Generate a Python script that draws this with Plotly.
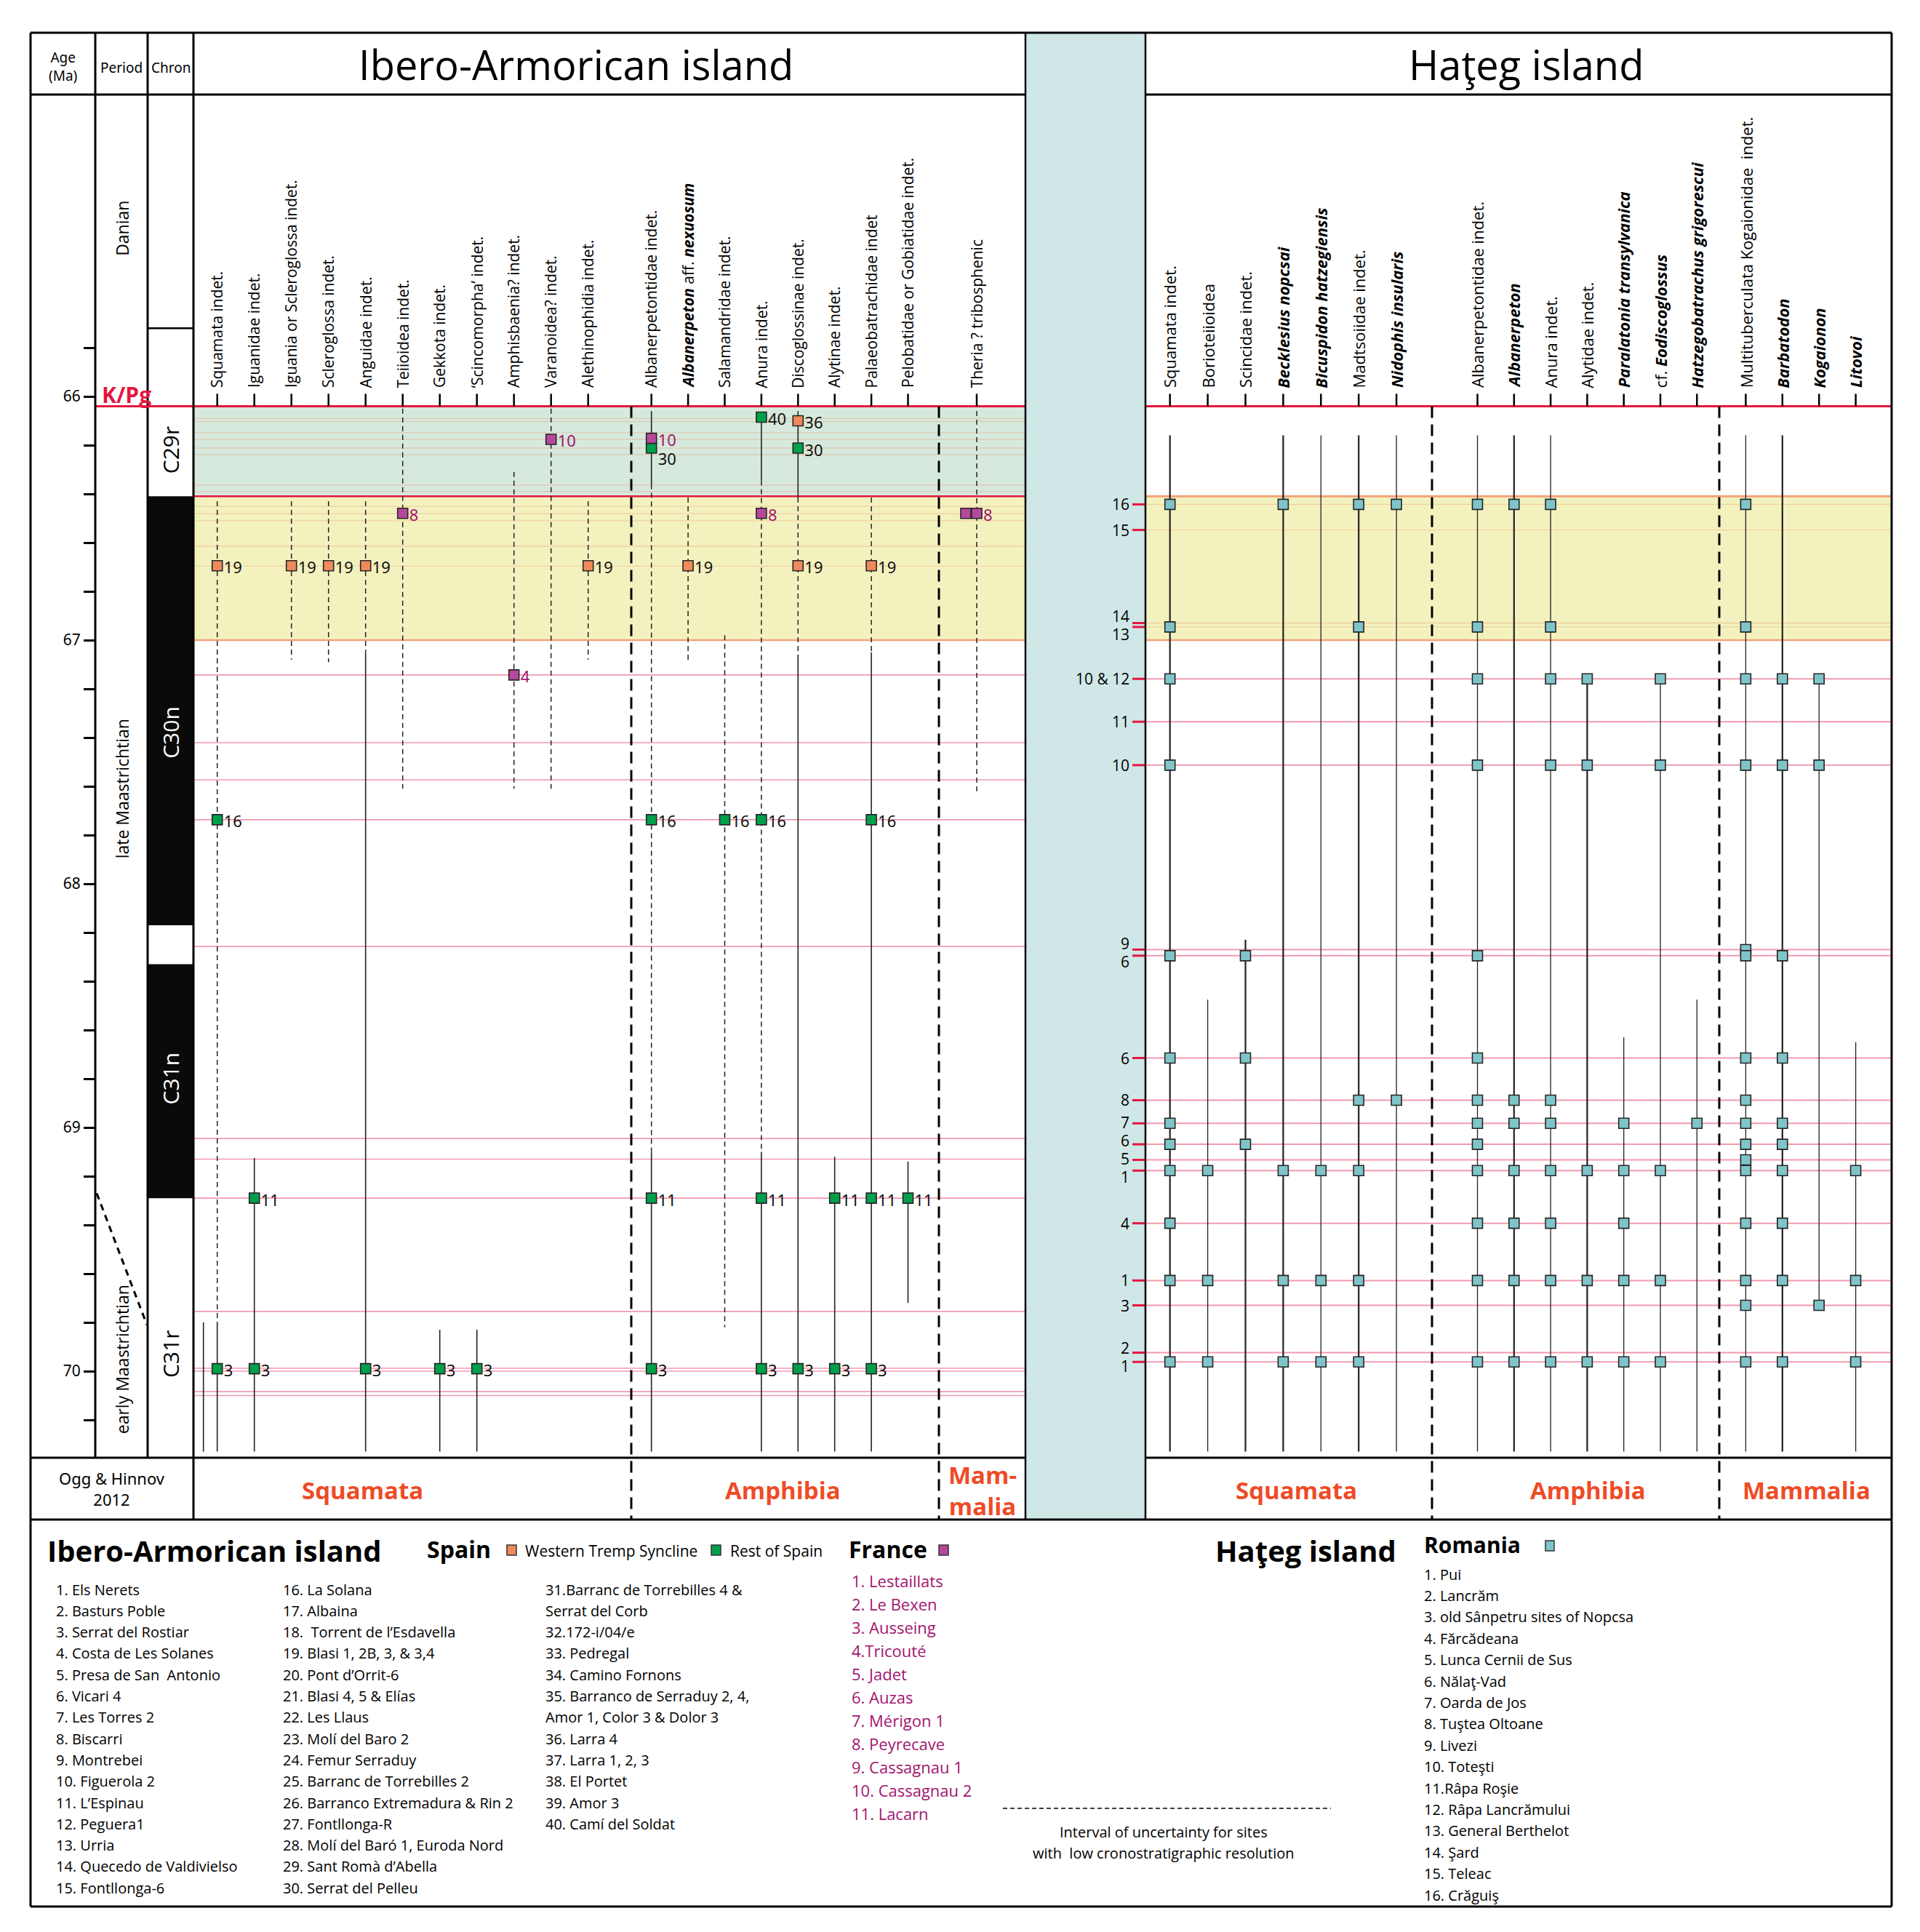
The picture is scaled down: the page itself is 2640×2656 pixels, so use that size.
import plotly.graph_objects as go

# ============================ DATA ============================
AGE_MAJOR = [66, 67, 68, 69, 70]
AGE_TICKS = [65.8, 66.0, 66.2, 66.4, 66.6, 66.8, 67.0, 67.2, 67.4, 67.6, 67.8,
             68.0, 68.2, 68.4, 68.6, 68.8, 69.0, 69.2, 69.4, 69.6, 69.8, 70.0, 70.2]
KPG_AGE = 66.04

CHRON_LABELS = ["", "C29r", "C30n", "", "C31n", "C31r"]
CHRON_TOPS = [64.76, 65.72, 66.41, 68.17, 68.33, 69.29]
CHRON_BASES = [65.72, 66.41, 68.17, 68.33, 69.29, 70.36]
CHRON_LABEL_AGES = [65.2, 66.22, 67.38, 68.25, 68.80, 69.93]
CHRON_NORMAL = [False, False, True, False, True, False]

PERIOD_LABELS = ["Danian", "late Maastrichtian", "early Maastrichtian"]
PERIOD_LABEL_AGES = [65.31, 67.61, 69.95]
MAASTRICHTIAN_BOUNDARY = [69.27, 69.81]

GREEN_BAND = [66.04, 66.41]
YELLOW_BAND = [66.41, 67.00]

# ---- Ibero-Armorican island
IBERO_TAXA = ["Squamata indet.", "Iguanidae indet.", "Iguania or Scleroglossa indet.",
              "Scleroglossa indet.", "Anguidae indet.", "Teiioidea indet.", "Gekkota indet.",
              "\u2018Scincomorpha\u2019 indet.", "Amphisbaenia? indet.", "Varanoidea? indet.",
              "Alethinophidia indet.",
              "Albanerpetontidae indet.", "<b><i>Albanerpeton</i></b> aff. <b><i>nexuosum</i></b>",
              "Salamandridae indet.", "Anura indet.", "Discoglossinae indet.", "Alytinae indet.",
              "Palaeobatrachidae indet", "Pelobatidae or Gobiatidae indet.",
              "Theria ? tribosphenic"]
IBERO_GROUP_SIZES = [11, 8, 1]
IBERO_GROUP_NAMES = ["Squamata", "Amphibia", "Mam-<br>malia"]

IBERO_SITE_LINE_AGES = [66.090, 66.103, 66.149, 66.176, 66.212, 66.239, 66.364, 66.391,
                        66.451, 66.481, 66.510, 66.615, 66.696,
                        67.143, 67.421, 67.573, 67.737, 68.257, 69.045, 69.130, 69.290,
                        69.755, 69.988, 70.000, 70.084, 70.100]

# (site number, region, age Ma); WT = Western Tremp Syncline, RS = rest of Spain, FR = France
IBERO_OCC = [
    [("19", "WT", 66.695), ("16", "RS", 67.737), ("3", "RS", 69.99)],
    [("11", "RS", 69.29), ("3", "RS", 69.99)],
    [("19", "WT", 66.695)],
    [("19", "WT", 66.695)],
    [("19", "WT", 66.695), ("3", "RS", 69.99)],
    [("8", "FR", 66.48)],
    [("3", "RS", 69.99)],
    [("3", "RS", 69.99)],
    [("4", "FR", 67.143)],
    [("10", "FR", 66.176)],
    [("19", "WT", 66.695)],
    [("10", "FR", 66.172), ("30", "RS", 66.212), ("16", "RS", 67.737), ("11", "RS", 69.29), ("3", "RS", 69.99)],
    [("19", "WT", 66.695)],
    [("16", "RS", 67.737)],
    [("40", "RS", 66.085), ("8", "FR", 66.48), ("16", "RS", 67.737), ("11", "RS", 69.29), ("3", "RS", 69.99)],
    [("36", "WT", 66.10), ("30", "RS", 66.212), ("19", "WT", 66.695), ("3", "RS", 69.99)],
    [("11", "RS", 69.29), ("3", "RS", 69.99)],
    [("19", "WT", 66.695), ("16", "RS", 67.737), ("11", "RS", 69.29), ("3", "RS", 69.99)],
    [("11", "RS", 69.29)],
    [("8", "FR", 66.48), ("8", "FR", 66.48)],
]

# stratigraphic range segments (top age, base age, style)
IBERO_RANGES = [
    [(66.43, 69.80, "dash"), (69.80, 70.33, "solid")],
    [(69.125, 70.33, "solid")],
    [(66.43, 67.08, "dash")],
    [(66.43, 67.09, "dash")],
    [(66.43, 67.05, "dash"), (67.05, 70.33, "solid")],
    [(66.05, 67.61, "dash")],
    [(69.83, 70.33, "solid")],
    [(69.83, 70.33, "solid")],
    [(66.31, 67.61, "dash")],
    [(66.05, 67.61, "dash")],
    [(66.43, 67.08, "dash")],
    [(66.06, 66.36, "solid"), (66.36, 69.10, "dash"), (69.10, 70.33, "solid")],
    [(66.415, 67.09, "dash")],
    [(66.98, 69.82, "dash")],
    [(66.085, 66.345, "solid"), (66.345, 69.10, "dash"), (69.10, 70.33, "solid")],
    [(66.06, 66.10, "dash"), (66.10, 66.415, "solid"), (66.415, 67.06, "dash"), (67.06, 70.33, "solid")],
    [(69.12, 70.33, "solid")],
    [(66.415, 67.05, "dash"), (67.05, 70.33, "solid")],
    [(69.14, 69.72, "solid")],
    [(66.06, 67.62, "dash")],
]
IBERO_STRAY_RANGE = (0, 69.80, 70.33)   # unlabelled line just left of Squamata indet.

# ---- Hateg island
HATEG_TAXA = ["Squamata indet.", "Borioteiioidea", "Scincidae indet.",
              "<b><i>Becklesius nopcsai</i></b>", "<b><i>Bicuspidon hatzegiensis</i></b>",
              "Madtsoiidae indet.", "<b><i>Nidophis insularis</i></b>",
              "Albanerpetontidae indet.", "<b><i>Albanerpeton</i></b>", "Anura indet.",
              "Alytidae indet.", "<b><i>Paralatonia transylvanica</i></b>",
              "cf. <b><i>Eodiscoglossus</i></b>", "<b><i>Hatzegobatrachus grigorescui</i></b>",
              "Multituberculata Kogaionidae  indet.", "<b><i>Barbatodon</i></b>",
              "<b><i>Kogaionon</i></b>", "<b><i>Litovoi</i></b>"]
HATEG_GROUP_SIZES = [7, 7, 4]
HATEG_GROUP_NAMES = ["Squamata", "Amphibia", "Mammalia"]

HATEG_SITE_LABELS = ["16", "15", "14", "13", "10 & 12", "11", "10", "9", "6", "6",
                     "8", "7", "6", "5", "1", "4", "1", "3", "2", "1"]
HATEG_SITE_AGES = [66.443, 66.548, 66.930, 66.946, 67.159, 67.335, 67.513, 68.270, 68.295, 68.715,
                   68.888, 68.983, 69.069, 69.133, 69.177, 69.393, 69.628, 69.730, 69.924, 69.962]

# occurrences = indices into the site lines above
HATEG_OCC = [
    [0, 3, 4, 6, 8, 9, 11, 12, 14, 15, 16, 19],
    [14, 16, 19],
    [8, 9, 12],
    [0, 14, 16, 19],
    [14, 16, 19],
    [0, 3, 10, 14, 16, 19],
    [0, 10],
    [0, 3, 4, 6, 8, 9, 10, 11, 12, 14, 15, 16, 19],
    [0, 10, 11, 14, 15, 16, 19],
    [0, 3, 4, 6, 10, 11, 14, 15, 16, 19],
    [4, 6, 14, 16, 19],
    [11, 14, 15, 16, 19],
    [4, 6, 14, 16, 19],
    [11],
    [0, 3, 4, 6, 7, 8, 9, 10, 11, 12, 13, 14, 15, 16, 17, 19],
    [4, 6, 8, 9, 11, 12, 14, 15, 16, 19],
    [4, 6, 17],
    [14, 16, 19],
]
HATEG_RANGE_TOP = [66.16, 68.475, 68.23, 66.16, 66.16, 66.16, 66.16, 66.16, 66.16, 66.16,
                   67.159, 68.63, 67.159, 68.475, 66.16, 66.16, 67.159, 68.65]
HATEG_RANGE_BASE = [70.33, 70.33, 70.33, 70.33, 70.33, 70.33, 70.33, 70.33, 70.33, 70.33,
                    70.33, 70.33, 70.33, 70.33, 70.33, 70.33, 69.73, 70.33]
HATEG_RANGE_BOLD = [True, False, True, True, False, True, False, False, True, False,
                    True, False, False, False, False, True, False, False]

# ---- legend lists
SPAIN_SITES = ["1. Els Nerets", "2. Basturs Poble", "3. Serrat del Rostiar", "4. Costa de Les Solanes",
               "5. Presa de San  Antonio", "6. Vicari 4", "7. Les Torres 2", "8. Biscarri", "9. Montrebei",
               "10. Figuerola 2", "11. L\u2019Espinau", "12. Peguera1", "13. Urria",
               "14. Quecedo de Valdivielso", "15. Fontllonga-6",
               "16. La Solana", "17. Albaina", "18.  Torrent de l\u2019Esdavella", "19. Blasi 1, 2B, 3, & 3,4",
               "20. Pont d\u2019Orrit-6", "21. Blasi 4, 5 & El\u00edas", "22. Les Llaus", "23. Mol\u00ed del Baro 2",
               "24. Femur Serraduy", "25. Barranc de Torrebilles 2", "26. Barranco Extremadura & Rin 2",
               "27. Fontllonga-R", "28. Mol\u00ed del Bar\u00f3 1, Euroda Nord", "29. Sant Rom\u00e0 d\u2019Abella",
               "30. Serrat del Pelleu",
               "31.Barranc de Torrebilles 4 &\nSerrat del Corb", "32.172-i/04/e", "33. Pedregal",
               "34. Camino Fornons", "35. Barranco de Serraduy 2, 4,\nAmor 1, Color 3 & Dolor 3",
               "36. Larra 4", "37. Larra 1, 2, 3", "38. El Portet", "39. Amor 3", "40. Cam\u00ed del Soldat"]
FRANCE_SITES = ["1. Lestaillats", "2. Le Bexen", "3. Ausseing", "4.Tricout\u00e9", "5. Jadet", "6. Auzas",
                "7. M\u00e9rigon 1", "8. Peyrecave", "9. Cassagnau 1", "10. Cassagnau 2", "11. Lacarn"]
ROMANIA_SITES = ["1. Pui", "2. Lancr\u0103m", "3. old S\u00e2npetru sites of Nopcsa", "4. F\u0103rc\u0103deana",
                 "5. Lunca Cernii de Sus", "6. N\u0103la\u0163-Vad", "7. Oarda de Jos", "8. Tu\u015ftea Oltoane",
                 "9. Livezi", "10. Tote\u015fti", "11.R\u00e2pa Ro\u015fie", "12. R\u00e2pa Lancr\u0103mului",
                 "13. General Berthelot", "14. \u015eard", "15. Teleac", "16. Cr\u0103gui\u015f"]

# ============================ STYLE / LAYOUT ============================
W, H = 2640, 2656
FONT = "Open Sans"
FONT2 = "Noto Sans"
REGION_FILL = {"WT": "#ef8a5c", "RS": "#00a04a", "FR": "#b5489c", "RO": "#7fc4c9"}
REGION_TEXT = {"WT": "#111111", "RS": "#111111", "FR": "#a3146f"}
GROUP_RED = "#ef4b26"
KPG_RED = "#e3173e"
PINK = "#f29ab0"
BAND_LINE = "rgba(230,150,110,0.35)"
GREEN_FILL = "#d6e9dc"
YELLOW_FILL = "#f3f2bf"
BLUE_FILL = "#cfe7e7"
YELLOW_EDGE = "#f2a27a"

X_FL, X_FR = 42, 2601
Y_FT, Y_FB = 45, 2621
X_AGE_R, X_PER_R, X_CHR_R = 131, 203, 266
X_BLUE_L, X_BLUE_R = 1410, 1575
Y_HEAD_B, Y_DATA_B, Y_FOOT_B = 130, 2004, 2089
Y66, PX_PER_MA = 545.0, 335.0

IBERO_GROUP_X = [(298.7, 51.0), (895.7, 50.4), (1343.0, 50.0)]
HATEG_GROUP_X = [(1608.7, 51.9), (2031.5, 50.3), (2400.4, 50.4)]
IBERO_SEP_X = [868, 1291]
HATEG_SEP_X = [1969, 2364]
IBERO_FOOT_X = [498, 1076, 1351]
HATEG_FOOT_X = [1782, 2183, 2484]
HATEG_LABEL_GAP = 25
IBERO_LABEL_GAP = 26


def age_px(a):
    return Y66 + (a - 66.0) * PX_PER_MA


def px_age(y):
    return 66.0 + (y - Y66) / PX_PER_MA


AGE_TOP = px_age(Y_HEAD_B)
AGE_BOT = px_age(Y_DATA_B)


def PX(x):
    return x / W


def PY(y):
    return 1 - y / H


def col_positions(sizes, groups):
    xs = []
    for n, (x0, step) in zip(sizes, groups):
        xs += [x0 + i * step for i in range(n)]
    return xs


IBERO_X = col_positions(IBERO_GROUP_SIZES, IBERO_GROUP_X)
HATEG_X = col_positions(HATEG_GROUP_SIZES, HATEG_GROUP_X)

shapes = []
annots = []


def pline(x0, y0, x1, y1, color="black", width=3, dash=None, layer="above"):
    shapes.append(dict(type="line", xref="paper", yref="paper", x0=PX(x0), y0=PY(y0), x1=PX(x1), y1=PY(y1),
                       line=dict(color=color, width=width, dash=dash), layer=layer))


def prect(x0, y0, x1, y1, fill, color=None, width=0, layer="below"):
    shapes.append(dict(type="rect", xref="paper", yref="paper", x0=PX(x0), y0=PY(y0), x1=PX(x1), y1=PY(y1),
                       fillcolor=fill, line=dict(color=color or fill, width=width), layer=layer))


def arect(x0, a0, x1, a1, fill):
    shapes.append(dict(type="rect", xref="x", yref="y", x0=x0, x1=x1, y0=a0, y1=a1,
                       fillcolor=fill, line=dict(width=0), layer="below"))


def aline(x0, x1, a, color, width=1.5, layer="below"):
    shapes.append(dict(type="line", xref="x", yref="y", x0=x0, x1=x1, y0=a, y1=a,
                       line=dict(color=color, width=width), layer=layer))


def ptext(x, y, s, size=22, color="black", xanchor="center", yanchor="middle", angle=0, family=FONT,
          xref="paper", yref="paper", align="center"):
    annots.append(dict(x=PX(x) if xref == "paper" else x, y=PY(y) if yref == "paper" else y,
                       xref=xref, yref=yref, text=s, showarrow=False, textangle=angle,
                       xanchor=xanchor, yanchor=yanchor, align=align,
                       font=dict(size=size, color=color, family=family)))


# ---------------- backgrounds
prect(X_BLUE_L, Y_FT, X_BLUE_R, Y_FOOT_B, BLUE_FILL)
arect(X_CHR_R, GREEN_BAND[0], X_BLUE_L, GREEN_BAND[1], GREEN_FILL)
arect(X_CHR_R, YELLOW_BAND[0], X_BLUE_L, YELLOW_BAND[1], YELLOW_FILL)
arect(X_BLUE_R, YELLOW_BAND[0], X_FR, YELLOW_BAND[1], YELLOW_FILL)

# chron column
for lab, top, base, la, normal in zip(CHRON_LABELS, CHRON_TOPS, CHRON_BASES, CHRON_LABEL_AGES, CHRON_NORMAL):
    t = max(top, AGE_TOP)
    b = min(base, AGE_BOT)
    if normal:
        arect(X_PER_R, t, X_CHR_R, b, "#0a0a0a")
    if lab:
        ptext((X_PER_R + X_CHR_R) / 2, age_px(la), lab, size=30,
              color="white" if normal else "black", angle=-90, family=FONT)
pline(X_PER_R, age_px(CHRON_BASES[0]), X_CHR_R, age_px(CHRON_BASES[0]), width=2.5)

# Ibero site lines
for a in IBERO_SITE_LINE_AGES:
    inband = a < YELLOW_BAND[1]
    aline(X_CHR_R, X_BLUE_L, a, BAND_LINE if inband else PINK, 1.4 if inband else 1.6)
# Hateg site lines
for a in HATEG_SITE_AGES:
    inband = YELLOW_BAND[0] < a < YELLOW_BAND[1]
    aline(X_BLUE_R, X_FR, a, BAND_LINE if inband else PINK, 1.4 if inband else 2)

# band edges
aline(X_CHR_R, X_BLUE_L, YELLOW_BAND[1], YELLOW_EDGE, 2.5)
aline(X_BLUE_R, X_FR, YELLOW_BAND[1], YELLOW_EDGE, 2.5)
aline(X_BLUE_R, X_FR, YELLOW_BAND[0], YELLOW_EDGE, 3)
aline(X_CHR_R, X_BLUE_L, YELLOW_BAND[0], KPG_RED, 2.5)
# K/Pg
aline(X_AGE_R, X_BLUE_L, KPG_AGE, KPG_RED, 3, layer="above")
aline(X_BLUE_R, X_FR, KPG_AGE, KPG_RED, 3, layer="above")
ptext(X_AGE_R + 7, age_px(66.0) - 2, "<b>K/Pg</b>", size=30, color=KPG_RED, xanchor="left")

# Hateg site tick marks and labels (spread overlapping labels)
lab_px = [age_px(a) for a in HATEG_SITE_AGES]
for _ in range(80):
    for i in range(1, len(lab_px)):
        d = lab_px[i] - lab_px[i - 1]
        if d < HATEG_LABEL_GAP:
            s = (HATEG_LABEL_GAP - d) / 2
            lab_px[i - 1] -= s
            lab_px[i] += s
for lab, a, yl in zip(HATEG_SITE_LABELS, HATEG_SITE_AGES, lab_px):
    aline(X_BLUE_R - 18, X_BLUE_R, a, KPG_RED, 3, layer="above")
    ptext(X_BLUE_R - 20, yl, lab, size=21, xanchor="right", family=FONT)

# ---------------- frame and grid lines
pline(X_FL, Y_FT, X_FR, Y_FT)
pline(X_FL, Y_FB, X_FR, Y_FB)
pline(X_FL, Y_FT, X_FL, Y_FB)
pline(X_FR, Y_FT, X_FR, Y_FB)
for xa, xb in [(X_FL, X_BLUE_L), (X_BLUE_R, X_FR)]:
    pline(xa, Y_HEAD_B, xb, Y_HEAD_B)
    pline(xa, Y_DATA_B, xb, Y_DATA_B)
pline(X_FL, Y_FOOT_B, X_FR, Y_FOOT_B)
pline(X_AGE_R, Y_FT, X_AGE_R, Y_DATA_B)
pline(X_PER_R, Y_FT, X_PER_R, Y_DATA_B)
pline(X_CHR_R, Y_FT, X_CHR_R, Y_FOOT_B)
pline(X_BLUE_L, Y_FT, X_BLUE_L, Y_FOOT_B, width=2.5)
pline(X_BLUE_R, Y_FT, X_BLUE_R, Y_FOOT_B, width=2.5)
for xs in IBERO_SEP_X + HATEG_SEP_X:
    pline(xs, age_px(KPG_AGE), xs, Y_FOOT_B, width=3, dash="16px,9px")

# period boundary
pline(X_AGE_R + 2, age_px(MAASTRICHTIAN_BOUNDARY[0]), X_PER_R - 1, age_px(MAASTRICHTIAN_BOUNDARY[1]),
      width=3, dash="9px,7px")

# ---------------- header texts
ptext((X_FL + X_AGE_R) / 2, 92, "Age<br>(Ma)", size=19, family=FONT2)
ptext((X_AGE_R + X_PER_R) / 2, 93, "Period", size=19, family=FONT2)
ptext((X_PER_R + X_CHR_R) / 2, 93, "Chron", size=19, family=FONT2)
ptext(792, 88, "Ibero-Armorican island", size=56)
ptext(2098, 88, "Ha\u0163eg island", size=56)
for lab, a in zip(PERIOD_LABELS, PERIOD_LABEL_AGES):
    ptext((X_AGE_R + X_PER_R) / 2 + 1, age_px(a), lab, size=23, angle=-90)
ptext((X_FL + X_CHR_R) / 2, (Y_DATA_B + Y_FOOT_B) / 2, "Ogg &amp; Hinnov<br>2012", size=22, family=FONT2)

# taxon labels + ticks
TICK_TOP = age_px(KPG_AGE) - 17
for names, xs, size in [(IBERO_TAXA, IBERO_X, 21), (HATEG_TAXA, HATEG_X, 22)]:
    for name, x in zip(names, xs):
        shapes.append(dict(type="line", xref="x", yref="paper", x0=x, x1=x, y0=PY(TICK_TOP),
                           y1=PY(age_px(KPG_AGE)), line=dict(color="black", width=2.5)))
        ptext(x, TICK_TOP - 6, name, size=size, angle=-90, xref="x", yanchor="bottom", xanchor="center")

# group labels in footer
for names, xs in [(IBERO_GROUP_NAMES, IBERO_FOOT_X), (HATEG_GROUP_NAMES, HATEG_FOOT_X)]:
    for nm, x in zip(names, xs):
        ptext(x, (Y_DATA_B + Y_FOOT_B) / 2 + 2, "<b>%s</b>" % nm, size=33, color=GROUP_RED)

# ---------------- traces
traces = []


def seg_trace(xs, ys, width, dash=None, color="#222222"):
    return go.Scatter(x=xs, y=ys, mode="lines", hoverinfo="skip",
                      line=dict(color=color, width=width, dash=dash))


sx, sy, dx, dy = [], [], [], []
for x, segs in zip(IBERO_X, IBERO_RANGES):
    for top, base, style in segs:
        if style == "dash":
            dx += [x, x, None]
            dy += [top, base, None]
        else:
            sx += [x, x, None]
            sy += [top, base, None]
ci, t0, b0 = IBERO_STRAY_RANGE
sx += [IBERO_X[ci] - 19, IBERO_X[ci] - 19, None]
sy += [t0, b0, None]
traces.append(seg_trace(sx, sy, 1.6))
traces.append(seg_trace(dx, dy, 1.5, dash="7px,5px"))

hx_b, hy_b, hx_t, hy_t = [], [], [], []
for x, t, b, bold in zip(HATEG_X, HATEG_RANGE_TOP, HATEG_RANGE_BASE, HATEG_RANGE_BOLD):
    if bold:
        hx_b += [x, x, None]
        hy_b += [t, b, None]
    else:
        hx_t += [x, x, None]
        hy_t += [t, b, None]
traces.append(seg_trace(hx_b, hy_b, 2.2))
traces.append(seg_trace(hx_t, hy_t, 1.3))

# Ibero markers + labels
mk = {k: ([], []) for k in REGION_FILL}
lab_by_color = {}
for x, occ in zip(IBERO_X, IBERO_OCC):
    seen = {}
    col_labels = []
    for site, reg, a in occ:
        key = (site, a)
        n = seen.get(key, 0)
        seen[key] = n + 1
        mk[reg][0].append(x - 15 * n)
        mk[reg][1].append(a)
        if n == 0:
            col_labels.append([age_px(a) + 5, site, reg])
    col_labels.sort()
    for i in range(1, len(col_labels)):
        if col_labels[i][0] - col_labels[i - 1][0] < IBERO_LABEL_GAP:
            col_labels[i][0] = col_labels[i - 1][0] + IBERO_LABEL_GAP
    for yl, site, reg in col_labels:
        c = REGION_TEXT[reg]
        lab_by_color.setdefault(c, ([], [], []))
        lab_by_color[c][0].append(x + 9)
        lab_by_color[c][1].append(px_age(yl))
        lab_by_color[c][2].append(site)

for x, occ in zip(HATEG_X, HATEG_OCC):
    for i in occ:
        mk["RO"][0].append(x)
        mk["RO"][1].append(HATEG_SITE_AGES[i])

for reg, (xs, ys) in mk.items():
    traces.append(go.Scatter(x=xs, y=ys, mode="markers", hoverinfo="skip",
                             marker=dict(symbol="square", size=14, color=REGION_FILL[reg],
                                         line=dict(color="#262626", width=1.6))))
for c, (xs, ys, tx) in lab_by_color.items():
    traces.append(go.Scatter(x=xs, y=ys, mode="text", text=tx, textposition="middle right",
                             hoverinfo="skip", textfont=dict(size=22, color=c, family=FONT2)))

# ---------------- legend block
LEG_Y = 2131
ptext(63, LEG_Y, "<b>Ibero-Armorican island</b>", size=40, xanchor="left")
ptext(585, LEG_Y - 2, "<b>Spain</b>", size=32, xanchor="left")
prect(697, LEG_Y - 7, 710, LEG_Y + 7, REGION_FILL["WT"], "#333333", 1.5, layer="above")
ptext(720, LEG_Y + 1, "Western Tremp Syncline", size=21, xanchor="left")
prect(978, LEG_Y - 7, 991, LEG_Y + 7, REGION_FILL["RS"], "#333333", 1.5, layer="above")
ptext(1002, LEG_Y + 1, "Rest of Spain", size=21, xanchor="left")
ptext(1165, LEG_Y - 2, "<b>France</b>", size=32, xanchor="left")
prect(1291, LEG_Y - 7, 1304, LEG_Y + 7, REGION_FILL["FR"], "#333333", 1.5, layer="above")

LIST_Y0, LIST_DY = 2185, 29.3
cols = [(75, SPAIN_SITES[0:15]), (387, SPAIN_SITES[15:30]), (748, SPAIN_SITES[30:40])]
for x, items in cols:
    row = 0
    for it in items:
        for part in it.split("\n"):
            ptext(x, LIST_Y0 + row * LIST_DY, part, size=20, xanchor="left")
            row += 1
for i, it in enumerate(FRANCE_SITES):
    ptext(1169, 2173 + i * 32.0, it, size=22, color="#a3146f", xanchor="left")

ptext(1669, LEG_Y, "<b>Ha\u0163eg island</b>", size=40, xanchor="left")
ptext(1956, LEG_Y - 8, "<b>Romania</b>", size=30, xanchor="left")
prect(2125, LEG_Y - 13, 2137, LEG_Y + 1, REGION_FILL["RO"], "#333333", 1.5, layer="above")
for i, it in enumerate(ROMANIA_SITES):
    ptext(1956, 2164 + i * 29.4, it, size=20, xanchor="left")

pline(1379, 2486, 1830, 2486, width=1.5, dash="6px,4px")
ptext(1600, 2518, "Interval of uncertainty for sites", size=20)
ptext(1600, 2547, "with  low cronostratigraphic resolution", size=20)

# ---------------- figure
fig = go.Figure(traces)
fig.update_layout(
    width=W, height=H, margin=dict(l=0, r=0, t=0, b=0),
    paper_bgcolor="white", plot_bgcolor="rgba(0,0,0,0)", showlegend=False,
    xaxis=dict(range=[0, W], domain=[0, 1], visible=False, fixedrange=True),
    yaxis=dict(range=[AGE_BOT, AGE_TOP], domain=[PY(Y_DATA_B), PY(Y_HEAD_B)], anchor="free",
               position=PX(X_AGE_R), side="left", tickvals=AGE_TICKS,
               ticktext=[str(int(round(t))) if abs(t - round(t)) < 1e-6 and round(t) in AGE_MAJOR else ""
                         for t in AGE_TICKS],
               ticks="outside", ticklen=16, tickwidth=2.5, tickcolor="black", showgrid=False,
               zeroline=False, showline=False, fixedrange=True,
               tickfont=dict(size=21, color="black", family=FONT2)),
    shapes=shapes, annotations=annots,
)
fig.write_html("out.html", config={"displayModeBar": False},
               post_script="document.body.style.margin='0';document.body.style.overflow='hidden';")
